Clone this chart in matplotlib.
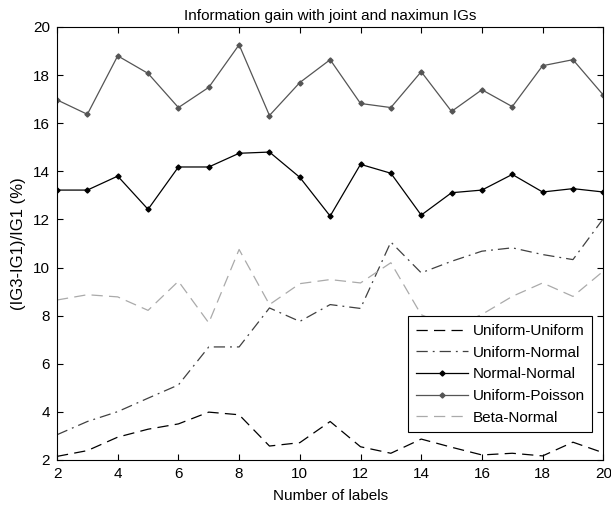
import numpy as np
import matplotlib
matplotlib.use("Agg")
import matplotlib.pyplot as plt

plt.rcParams['font.family'] = ['Liberation Sans', 'DejaVu Sans']

# number of labels on the x axis
labels = list(range(2, 21))

# series values
uni_uni = [2.15, 2.39, 2.95, 3.28, 3.5, 3.99, 3.88, 2.58, 2.72, 3.6,
           2.55, 2.28, 2.87, 2.53, 2.21, 2.28, 2.17, 2.74, 2.3]
uni_norm = [3.05, 3.6, 4.01, 4.57, 5.12, 6.7, 6.7, 8.32, 7.76, 8.46,
            8.3, 11.06, 9.78, 10.26, 10.68, 10.82, 10.54, 10.33, 12.03]
norm_norm = [13.22, 13.22, 13.8, 12.42, 14.18, 14.18, 14.75, 14.8, 13.75, 12.14,
             14.29, 13.92, 12.18, 13.11, 13.22, 13.87, 13.14, 13.28, 13.14]
uni_pois = [16.97, 16.37, 18.8, 18.07, 16.65, 17.49, 19.26, 16.32, 17.69, 18.64,
            16.82, 16.65, 18.14, 16.49, 17.39, 16.69, 18.39, 18.64, 17.17]
beta_norm = [8.65, 8.87, 8.78, 8.22, 9.43, 7.7, 10.75, 8.46, 9.33, 9.5,
             9.36, 10.2, 8.04, 7.5, 8.05, 8.8, 9.36, 8.8, 9.85]

fig = plt.figure(figsize=(6.11, 5.08), dpi=100)
ax = fig.add_axes([0.0933, 0.0945, 0.8941, 0.8524])

ax.plot(labels, uni_uni, color='black', ls=(0, (9, 5)), lw=0.9, label='Uniform-Uniform')
ax.plot(labels, uni_norm, color='#404040', ls=(0, (9, 4, 1.5, 4)), lw=0.9, label='Uniform-Normal')
ax.plot(labels, norm_norm, color='black', lw=0.9, marker='D', ms=2.6, label='Normal-Normal')
ax.plot(labels, uni_pois, color='#555555', lw=0.9, marker='D', ms=2.6, label='Uniform-Poisson')
ax.plot(labels, beta_norm, color='#aaaaaa', ls=(0, (9, 5)), lw=0.9, label='Beta-Normal')

ax.set_xlim(2, 20)
ax.set_ylim(2, 20)
ax.set_xticks(np.arange(2, 21, 2))
ax.set_yticks(np.arange(2, 21, 2))
ax.tick_params(direction='in', top=True, right=True, labelsize=11, length=4.5,
               pad=5, colors='black')
for s in ax.spines.values():
    s.set_linewidth(0.8)

ax.set_title('Information gain with joint and naximun IGs', fontsize=11, pad=5)
ax.set_xlabel('Number of labels', fontsize=11, labelpad=6)
ax.set_ylabel('(IG3-IG1)/IG1 (%)', fontsize=12, labelpad=5)

leg = ax.legend(loc='lower right', bbox_to_anchor=(0.98, 0.064), fontsize=11,
                frameon=True, fancybox=False, edgecolor='black', framealpha=1,
                handlelength=3.4, handletextpad=0.3, borderpad=0.5, labelspacing=0.5,
                borderaxespad=0)
leg.get_frame().set_linewidth(0.8)

fig.savefig('out.png', dpi=100)
